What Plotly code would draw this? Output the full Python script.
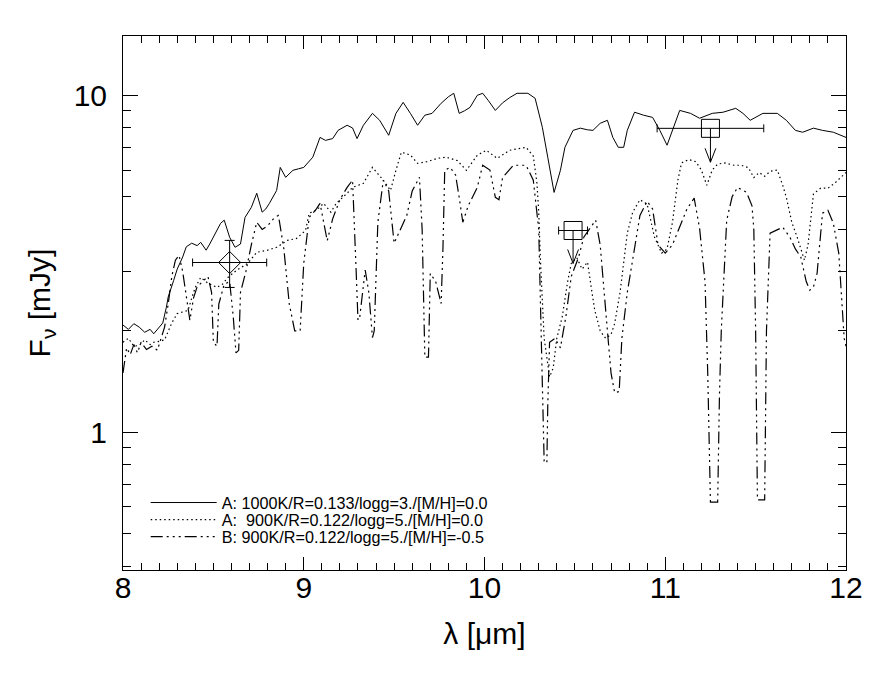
import numpy as np
import plotly.graph_objects as go

# ---- data (wavelength in micron, flux in mJy) ----
wl_a1000 = [8.00, 8.03, 8.06, 8.09, 8.12, 8.15, 8.17, 8.20, 8.22, 8.24, 8.25, 8.28, 8.30,
            8.33, 8.35, 8.38, 8.41, 8.43, 8.46, 8.48, 8.50, 8.52, 8.54, 8.56, 8.59, 8.62,
            8.65, 8.675, 8.71, 8.74, 8.77, 8.79, 8.81, 8.85, 8.87, 8.90, 8.94, 8.97, 9.00,
            9.05, 9.09, 9.12, 9.16, 9.19, 9.24, 9.27, 9.295, 9.33, 9.38, 9.42, 9.47, 9.51,
            9.55, 9.59, 9.63, 9.67, 9.71, 9.76, 9.80, 9.83, 9.86, 9.89, 9.92, 9.96, 9.99,
            10.02, 10.06, 10.10, 10.14, 10.18, 10.24, 10.28, 10.32, 10.35, 10.385, 10.42,
            10.445, 10.49, 10.53, 10.57, 10.60, 10.64, 10.68, 10.71, 10.74, 10.77, 10.79,
            10.83, 10.88, 10.93, 10.97, 11.01, 11.04, 11.08, 11.14, 11.19, 11.26, 11.32,
            11.39, 11.43, 11.47, 11.54, 11.62, 11.67, 11.72, 11.76, 11.82, 11.87, 11.93, 12.00]
fx_a1000 = [2.08, 2.02, 2.10, 2.05, 1.98, 2.02, 1.96, 2.05, 2.11, 2.35, 2.52, 2.82, 3.05,
            3.31, 3.55, 3.64, 3.58, 3.66, 3.47, 3.62, 3.79, 4.00, 4.17, 4.26, 3.79, 3.54,
            3.62, 4.34, 4.65, 5.12, 4.50, 4.60, 4.78, 5.22, 6.11, 5.71, 5.99, 6.05, 6.11,
            6.55, 7.50, 7.35, 7.44, 7.87, 8.15, 8.00, 7.44, 8.15, 8.84, 8.43, 7.61, 8.84,
            9.53, 8.84, 8.15, 8.73, 8.84, 9.47, 9.90, 10.14, 8.84, 9.00, 9.21, 10.00, 10.14,
            9.67, 9.02, 9.50, 9.85, 10.14, 10.14, 9.80, 8.04, 6.55, 5.15, 5.99,
            7.01, 7.87, 7.99, 7.90, 7.87, 8.26, 8.43, 7.50, 7.01, 7.01, 7.87,
            8.91, 8.73, 8.60, 7.87, 7.11, 7.87, 9.02, 8.84, 8.55, 8.84, 8.91,
            9.15, 8.84, 8.43, 8.84, 8.84, 8.43, 7.87, 7.77, 7.99, 7.87, 7.77, 7.50]

wl_a900 = [8.00, 8.03, 8.06, 8.09, 8.12, 8.15, 8.17, 8.20, 8.23, 8.25, 8.27, 8.30, 8.33,
           8.36, 8.38, 8.40, 8.43, 8.47, 8.52, 8.55, 8.58, 8.63, 8.69, 8.74, 8.80, 8.85,
           8.91, 8.96, 9.01, 9.03, 9.07, 9.11, 9.15, 9.18, 9.24, 9.27, 9.33, 9.38, 9.44,
           9.48, 9.51, 9.54, 9.59, 9.63, 9.68, 9.74, 9.79, 9.85, 9.90, 9.96, 10.01, 10.07,
           10.14, 10.23, 10.27, 10.29, 10.30, 10.31, 10.33, 10.36, 10.38, 10.40, 10.43,
           10.46, 10.48, 10.51, 10.54, 10.57, 10.59, 10.61, 10.64, 10.67, 10.70, 10.72,
           10.75, 10.79, 10.82, 10.86, 10.90, 10.94, 10.98, 11.01, 11.04, 11.07, 11.09,
           11.13, 11.17, 11.20, 11.23, 11.26, 11.29, 11.33, 11.38, 11.42, 11.46, 11.49,
           11.52, 11.55, 11.58, 11.62, 11.65, 11.67, 11.70, 11.73, 11.77, 11.79, 11.82,
           11.86, 11.90, 11.94, 11.97, 12.00]
fx_a900 = [1.85, 1.90, 1.80, 1.81, 1.88, 1.82, 1.85, 1.86, 1.88, 2.00, 2.11, 2.25, 2.28,
           2.30, 2.50, 2.69, 2.88, 2.77, 2.69, 2.75, 2.88, 3.03, 3.17, 3.42, 3.47, 3.54,
           3.71, 3.76, 3.97, 4.47, 4.56, 4.78, 4.50, 4.78, 5.12, 5.33, 5.48, 6.11, 5.60,
           5.22, 5.99, 6.78, 6.65, 6.28, 6.35, 6.50, 6.55, 6.40, 5.99, 6.64, 6.87, 6.50,
           6.87, 7.01, 6.60, 5.50, 4.50, 3.20, 1.90, 1.46, 1.55, 1.90, 2.20,
           2.80, 3.17, 3.30, 3.05, 3.20, 2.70, 2.30, 2.00, 1.90, 1.95, 2.10,
           2.60, 3.90, 4.50, 4.90, 4.75, 3.80, 3.40, 3.50, 4.20, 5.60, 6.30,
           6.45, 6.35, 6.00, 5.41, 6.00, 6.25, 6.30, 6.20, 6.20, 6.10, 5.70,
           5.90, 5.75, 5.95, 6.00, 5.40, 4.98, 4.20, 3.79, 3.24, 3.60, 5.10,
           5.30, 5.30, 5.50, 5.70, 5.90]

wl_b900 = [8.00, 8.02, 8.04, 8.06, 8.08, 8.10, 8.13, 8.16, 8.19, 8.21, 8.23, 8.25, 8.27,
           8.29, 8.31, 8.33, 8.35, 8.37, 8.39, 8.41, 8.44, 8.47, 8.49, 8.50, 8.52, 8.53,
           8.56, 8.59, 8.61, 8.625, 8.64, 8.65, 8.68, 8.71, 8.74, 8.77, 8.80, 8.84, 8.86,
           8.89, 8.92, 8.95, 8.98, 9.00, 9.03, 9.07, 9.09, 9.12, 9.13, 9.16, 9.20, 9.24,
           9.27, 9.29, 9.30, 9.31, 9.34, 9.36, 9.38, 9.39, 9.41, 9.44, 9.47, 9.50, 9.53,
           9.57, 9.60, 9.64, 9.655, 9.67, 9.69, 9.70, 9.73, 9.76, 9.77, 9.78, 9.81, 9.84,
           9.86, 9.88, 9.91, 9.96, 9.99, 10.03, 10.06, 10.08, 10.10, 10.16, 10.23, 10.27,
           10.30, 10.32, 10.33, 10.345, 10.35, 10.36, 10.39, 10.42, 10.45, 10.48, 10.52,
           10.55, 10.59, 10.615, 10.64, 10.66, 10.68, 10.70, 10.72, 10.745, 10.76, 10.79,
           10.83, 10.86, 10.90, 10.93, 10.96, 11.00, 11.04, 11.08, 11.12, 11.16, 11.19,
           11.22, 11.235, 11.25, 11.29, 11.30, 11.31, 11.34, 11.37, 11.40, 11.45, 11.48,
           11.49, 11.50, 11.51, 11.55, 11.56, 11.58, 11.62, 11.65, 11.69, 11.72, 11.75,
           11.78, 11.80, 11.82, 11.84, 11.87, 11.90, 11.93, 11.96, 11.97, 11.99, 12.00]
fx_b900 = [1.50, 1.78, 1.70, 1.82, 1.72, 1.85, 1.76, 1.80, 1.75, 1.88, 2.05, 2.40, 2.90,
           3.24, 3.35, 3.00, 2.52, 2.15, 2.50, 2.70, 2.80, 2.90, 2.60, 1.85, 1.80, 2.40,
           2.75, 2.80, 2.20, 1.72, 1.75, 2.60, 3.00, 3.60, 4.20, 4.00, 4.10, 4.35, 4.40,
           3.50, 2.40, 2.00, 2.00, 3.17, 4.34, 4.60, 4.78, 4.00, 3.70, 4.30, 4.90, 5.33,
           5.60, 3.00, 2.15, 2.20, 3.03, 2.60, 1.91, 2.00, 4.20, 5.60, 5.20, 3.64, 3.97,
           4.40, 5.20, 5.71, 4.00, 1.67, 1.67, 2.96, 2.80, 2.41, 3.50, 5.99, 6.11, 5.80,
           4.98, 4.20, 4.70, 5.33, 6.20, 6.00, 4.98, 4.90, 5.70, 6.20, 6.20, 5.60,
           4.00, 1.50, 0.82, 0.81, 1.20, 1.85, 1.90, 1.78, 2.20, 2.90, 3.30,
           3.80, 4.10, 4.26, 3.60, 2.60, 2.00, 1.50, 1.31, 1.32, 1.90, 2.60,
           3.50, 4.40, 4.85, 4.60, 3.60, 3.40, 3.60, 4.06, 4.60, 4.95, 4.03,
           2.80, 1.50, 0.62, 0.62, 1.30, 2.00, 4.26, 5.00, 5.33, 5.15, 4.70,
           4.00, 2.00, 0.63, 0.63, 2.00, 3.90, 4.00, 4.06, 3.79, 3.50, 3.31,
           2.80, 2.64, 2.70, 2.96, 4.47, 4.56, 4.17, 3.40, 2.82, 1.90, 1.80]

# photometric point (with error bars)
phot_x = [8.59]
phot_y = [3.19]
phot_xerr = [0.205]
phot_yerr_hi = [0.52]
phot_yerr_lo = [0.50]

# upper limits: square at the limit, arrow down to the tip
lim_x = [10.49, 11.25]
lim_y = [3.97, 7.98]
lim_xerr = [0.08, 0.295]
lim_tip = [3.17, 6.33]

labels = ["A: 1000K/R=0.133/logg=3./[M/H]=0.0",
          "A: \u00a0900K/R=0.122/logg=5./[M/H]=0.0",
          "B: 900K/R=0.122/logg=5./[M/H]=-0.5"]

FONT = "Liberation Sans, Arial, Helvetica, sans-serif"

fig = go.Figure()

fig.add_trace(go.Scatter(x=wl_a1000, y=fx_a1000, mode="lines", name=labels[0],
                         legend="legend",
                         line=dict(color="black", width=1)))
fig.add_trace(go.Scatter(x=wl_a900, y=fx_a900, mode="lines", name=labels[1],
                         legend="legend2",
                         line=dict(color="black", width=1.2, dash="1.5px,3px")))
fig.add_trace(go.Scatter(x=wl_b900, y=fx_b900, mode="lines", name=labels[2],
                         legend="legend3",
                         line=dict(color="black", width=1.2,
                                   dash="12px,4px,2px,4px,2px,4px,2px,4px")))

# photometric point
fig.add_trace(go.Scatter(
    x=phot_x, y=phot_y, mode="markers", showlegend=False,
    marker=dict(symbol="diamond-open", size=17, color="black", line=dict(width=1)),
    error_x=dict(type="data", array=phot_xerr, color="black", thickness=1, width=4),
    error_y=dict(type="data", symmetric=False, array=phot_yerr_hi,
                 arrayminus=phot_yerr_lo, color="black", thickness=1, width=5)))

# upper limits
fig.add_trace(go.Scatter(
    x=lim_x, y=lim_y, mode="markers", showlegend=False,
    marker=dict(symbol="square-open", size=18, color="black", line=dict(width=1)),
    error_x=dict(type="data", array=lim_xerr, color="black", thickness=1, width=4)))

# arrow shafts and open V heads
ax, ay = [], []
for x0, y0, yt in zip(lim_x, lim_y, lim_tip):
    ax += [x0, x0, None, x0 - 0.03, x0, x0 + 0.03, None]
    ay += [y0, yt, None, yt * 1.1, yt, yt * 1.1, None]
fig.add_trace(go.Scatter(x=ax, y=ay, mode="lines", showlegend=False,
                         line=dict(color="black", width=1)))

axis_common = dict(
    showline=True, linecolor="black", linewidth=1, mirror="allticks",
    ticks="inside", tickcolor="black", tickwidth=1, showgrid=False, zeroline=False,
    tickfont=dict(family=FONT, size=30, color="black"),
)

fig.update_xaxes(range=[8, 12], dtick=1, ticklen=13, ticklabelstandoff=-9,
                 minor=dict(dtick=0.1, ticks="inside", ticklen=7, tickcolor="black",
                            showgrid=False),
                 title=dict(text="λ [μm]", font=dict(family=FONT, size=30, color="black"),
                            standoff=19),
                 **axis_common)
fig.update_yaxes(type="log", range=[np.log10(0.39), np.log10(15)], dtick=1, ticklen=15,
                 ticklabelstandoff=9,
                 minor=dict(dtick="D1", ticks="inside", ticklen=8, tickcolor="black",
                            showgrid=False),
                 title=dict(text="F<sub>ν</sub> [mJy]",
                            font=dict(family=FONT, size=30, color="black"), standoff=14),
                 **axis_common)

leg = dict(x=0.0314, xanchor="left", yanchor="middle",
           bgcolor="rgba(0,0,0,0)", borderwidth=0,
           font=dict(family=FONT, size=16.2, color="black"), itemwidth=66)

# the page body adds an 8px offset; margins are shifted to compensate
fig.update_layout(
    width=882, height=684,
    margin=dict(l=115, r=44, t=28, b=122),
    paper_bgcolor="white", plot_bgcolor="white",
    font=dict(family=FONT, color="black"),
    showlegend=True,
    legend=dict(leg, y=(570 - 503) / 534),
    legend2=dict(leg, y=(570 - 520) / 534),
    legend3=dict(leg, y=(570 - 537) / 534),
    hovermode=False,
)

fig.write_html("out.html", config={"displayModeBar": False})
